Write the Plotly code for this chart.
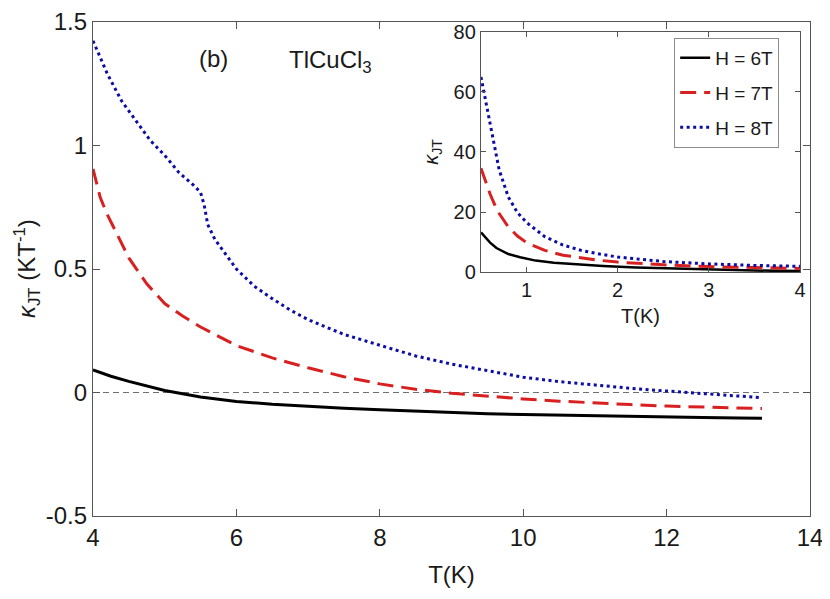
import plotly.graph_objects as go

# main panel: kappa_JT vs T, three fields
T_6T = [4.0, 4.25, 4.5, 4.75, 5.0, 5.5, 6.0, 6.5, 7.0, 7.5, 8.0, 8.5, 9.0, 9.5, 10.0, 10.5, 11.0, 11.5, 12.0,
        12.5, 13.0, 13.33]
K_6T = [0.091, 0.066, 0.045, 0.025, 0.008, -0.018, -0.036, -0.048, -0.057, -0.064, -0.070, -0.076, -0.081,
        -0.086, -0.089, -0.092, -0.095, -0.097, -0.099, -0.101, -0.103, -0.104]

T_7T = [4.0, 4.1, 4.2, 4.3, 4.5, 4.75, 5.0, 5.25, 5.5, 6.0, 6.5, 7.0, 7.5, 8.0, 8.5, 9.0, 9.5, 10.0, 10.5,
        11.0, 11.5, 12.0, 12.5, 13.0, 13.33]
K_7T = [0.905, 0.79, 0.72, 0.66, 0.545, 0.44, 0.36, 0.31, 0.265, 0.19, 0.14, 0.10, 0.064, 0.035, 0.013, -0.003,
        -0.015, -0.026, -0.035, -0.043, -0.049, -0.055, -0.059, -0.063, -0.065]

T_8T = [4.0, 4.2, 4.4, 4.6, 4.8, 5.0, 5.2, 5.4, 5.5, 5.55, 5.6, 5.7, 5.8, 6.0, 6.25, 6.5, 6.75, 7.0, 7.5, 8.0,
        8.5, 9.0, 9.5, 10.0, 10.5, 11.0, 11.5, 12.0, 12.5, 13.0, 13.33]
K_8T = [1.424, 1.29, 1.18, 1.10, 1.02, 0.96, 0.89, 0.84, 0.81, 0.76, 0.68, 0.62, 0.58, 0.50, 0.43, 0.38, 0.334,
        0.295, 0.235, 0.19, 0.148, 0.115, 0.087, 0.062, 0.044, 0.030, 0.017, 0.006, -0.004, -0.014, -0.021]

# inset: low temperature part
t_6T = [0.5, 0.55, 0.6, 0.67, 0.8, 0.93, 1.1, 1.3, 1.6, 1.84, 2.2, 2.57, 3.0, 3.5, 4.0]
k_6T = [13.2, 11.4, 9.8, 8.0, 6.0, 4.9, 3.8, 3.1, 2.4, 2.0, 1.5, 1.2, 0.8, 0.5, 0.3]

t_7T = [0.5, 0.55, 0.6, 0.65, 0.7, 0.8, 0.9, 1.0, 1.2, 1.4, 1.6, 1.8, 2.0, 2.5, 3.0, 3.5, 4.0]
k_7T = [34.6, 30.0, 26.0, 22.5, 19.5, 15.0, 12.0, 9.8, 7.2, 5.6, 4.7, 3.9, 3.3, 2.4, 1.8, 1.4, 1.2]

t_8T = [0.5, 0.55, 0.6, 0.65, 0.7, 0.8, 0.9, 1.0, 1.2, 1.4, 1.6, 1.8, 2.0, 2.5, 3.0, 3.5, 4.0]
k_8T = [65.0, 57.0, 49.0, 41.0, 34.0, 25.0, 19.8, 16.5, 11.8, 9.0, 7.2, 6.0, 5.0, 3.5, 2.7, 2.2, 1.9]

LABELS = ["H = 6T", "H = 7T", "H = 8T"]

FONT = "Arial, Liberation Sans, sans-serif"
BLACK = "#000000"
RED = "#d92020"
BLUE = "#0c0ca6"
AXIS_COLOR = "#555555"

STYLES = [
    dict(color=BLACK, width=3, dash="solid"),
    dict(color=RED, width=3, dash="16px,8px"),
    dict(color=BLUE, width=3, dash="3px,3.5px"),
]

fig = go.Figure()

main_series = [(T_6T, K_6T), (T_7T, K_7T), (T_8T, K_8T)]
for (x, y), style, name in zip(main_series, STYLES, LABELS):
    fig.add_trace(go.Scatter(x=x, y=y, mode="lines", line=style, name=name,
                             showlegend=False, xaxis="x", yaxis="y"))

inset_series = [(t_6T, k_6T), (t_7T, k_7T), (t_8T, k_8T)]
for (x, y), style, name in zip(inset_series, STYLES, LABELS):
    inset_style = dict(style)
    if name == "H = 6T":
        inset_style["width"] = 2.5
    # one legend group per trace so tracegroupgap spaces the rows
    fig.add_trace(go.Scatter(x=x, y=y, mode="lines", line=inset_style, name=name,
                             legendgroup=name, showlegend=True, xaxis="x2", yaxis="y2"))

axis_common = dict(
    showline=True, linecolor=AXIS_COLOR, linewidth=1.3, mirror="ticks",
    ticks="inside", tickcolor=AXIS_COLOR, showgrid=False, zeroline=False,
)

# the page body adds 8px on the left/top, margins are shifted to compensate
fig.update_layout(
    width=830, height=599,
    margin=dict(l=85, r=28, t=14, b=91),
    paper_bgcolor="white", plot_bgcolor="white",
    font=dict(family=FONT, color="#1a1a1a"),
    xaxis=dict(
        domain=[0, 1], range=[4, 14], tickvals=[4, 6, 8, 10, 12, 14], ticklen=7,
        tickfont=dict(size=24), automargin=False,
        title=dict(text="T(K)", font=dict(size=24), standoff=16),
        anchor="y", **axis_common
    ),
    yaxis=dict(
        domain=[0, 1], range=[-0.5, 1.5], tickvals=[-0.5, 0, 0.5, 1, 1.5],
        ticktext=["-0.5", "0", "0.5", "1", "1.5"], ticklen=7,
        tickfont=dict(size=24), automargin=False, anchor="x", **axis_common
    ),
    xaxis2=dict(
        domain=[0.5411, 0.986], range=[0.5, 4], tickvals=[1, 2, 3, 4], ticklen=5,
        tickfont=dict(size=20), automargin=False,
        title=dict(text="T(K)", font=dict(size=20), standoff=8),
        anchor="y2", **axis_common
    ),
    yaxis2=dict(
        domain=[0.4939, 0.9798], range=[0, 80], tickvals=[0, 20, 40, 60, 80], ticklen=5,
        tickfont=dict(size=20), automargin=False,
        title=dict(text="<i>κ</i><sub>JT</sub>", font=dict(size=20), standoff=9),
        anchor="x2", **axis_common
    ),
    legend=dict(
        x=0.957, y=0.9676, xanchor="right", yanchor="top",
        bgcolor="white", bordercolor="#8c8c8c", borderwidth=1,
        font=dict(size=19, color="#1a1a1a"), tracegroupgap=7,
    ),
)

# dashed zero reference line on the main panel
fig.add_shape(type="line", xref="x domain", yref="y", x0=0, x1=1, y0=0, y1=0,
              line=dict(color="#707070", width=1, dash="6px,4px"), layer="below")

# y title of main panel and the panel labels
fig.add_annotation(text="<i>κ</i><sub>JT</sub> (KT<sup>-1</sup>)", xref="paper", yref="paper",
                   x=-0.092, y=0.5, textangle=-90, showarrow=False,
                   font=dict(size=24), xanchor="center", yanchor="middle")
fig.add_annotation(text="(b)", xref="paper", yref="paper", x=(213 - 93) / 717, y=(516 - 58) / 494,
                   showarrow=False, font=dict(size=24), xanchor="center", yanchor="middle")
fig.add_annotation(text="TlCuCl<sub>3</sub>", xref="paper", yref="paper", x=(287 - 93) / 717,
                   y=(516 - 62) / 494, showarrow=False, font=dict(size=24),
                   xanchor="left", yanchor="middle")

fig.write_html("out.html")
